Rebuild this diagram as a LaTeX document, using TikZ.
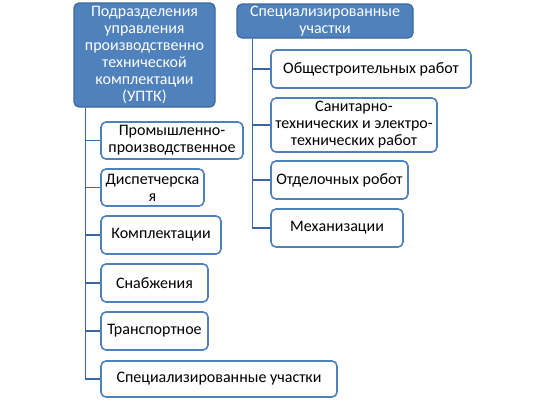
\documentclass[tikz,border=0pt]{standalone}
\usepackage{fontspec}
\setmainfont{Carlito}
\usetikzlibrary{calc, positioning}
\definecolor{officeblue}{HTML}{4F81BD}
\definecolor{darkblue}{HTML}{3A679C}
\tikzset{
  headbox/.style={draw=darkblue, fill=officeblue, text=white, line width=1.2pt,
    rounded corners=5pt, align=center, inner sep=1pt, font=\fontsize{16}{17}\selectfont},
  itembox/.style={draw=officeblue, fill=white, text=black, line width=1.6pt,
    rounded corners=5pt, align=center, inner sep=1pt, font=\fontsize{16}{17}\selectfont},
  link/.style={draw=darkblue, line width=1.6pt}
}
\begin{document}
\begin{tikzpicture}[x=1pt, y=-1pt]
  \useasboundingbox (0,0) rectangle (543,400);
  % heads
  \node[headbox, minimum width=141pt, minimum height=104pt] (uptk) at (144.5,55)
    {Подразделения\\управления\\производственно\\технической\\комплектации\\(УПТК)};
  \node[headbox, minimum width=176pt, minimum height=34pt] (spec) at (325,21)
    {Специализированные\\участки};
  % left branch
  \node[itembox, minimum width=142pt, minimum height=37pt] (l1) at (172,140.5) {Промышленно-\\производственное};
  \node[itembox, minimum width=103pt, minimum height=37pt] (l2) at (152.5,187.5) {Диспетчерска\\я};
  \node[itembox, minimum width=120pt, minimum height=38pt] (l3) at (161,235) {Комплектации};
  \node[itembox, minimum width=107pt, minimum height=38pt] (l4) at (154.5,283) {Снабжения};
  \node[itembox, minimum width=107pt, minimum height=38pt] (l5) at (154.5,331) {Транспортное};
  \node[itembox, minimum width=236pt, minimum height=36pt] (l6) at (219,379) {Специализированные участки};
  % right branch
  \node[itembox, minimum width=200pt, minimum height=38pt] (r1) at (371,69) {Общестроительных работ};
  \node[itembox, minimum width=166pt, minimum height=54pt] (r2) at (354,125) {Санитарно-\\технических и электро-\\технических работ};
  \node[itembox, minimum width=137pt, minimum height=38pt] (r3) at (339.5,180) {Отделочных робот};
  \node[itembox, minimum width=132pt, minimum height=38pt] (r4) at (337,228) {Механизации};
  % connectors
  \coordinate (ls) at ($(uptk.south west)+(12,0)$);
  \coordinate (rs) at ($(spec.south west)+(16,0)$);
  \foreach \n in {l1,l2,l3,l4,l5,l6} {\draw[link] (ls) |- (\n.west);}
  \foreach \n in {r1,r2,r3,r4} {\draw[link] (rs) |- (\n.west);}
\end{tikzpicture}
\end{document}
